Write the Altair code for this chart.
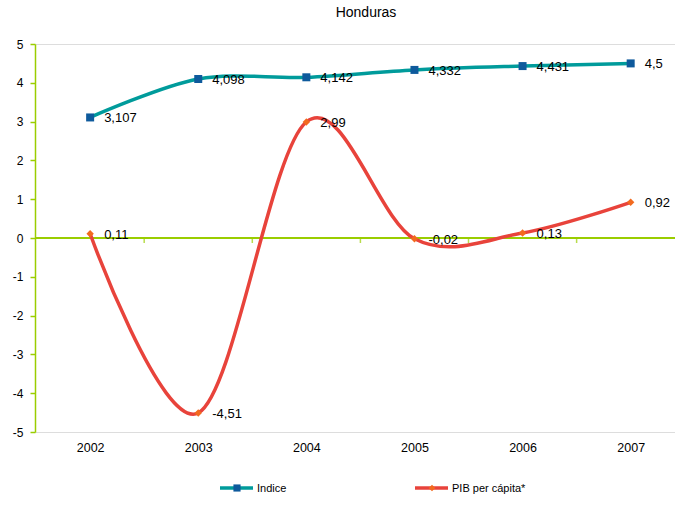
import altair as alt
import pandas as pd

# Series values per year
years = [2002, 2003, 2004, 2005, 2006, 2007]
indice = [3.107, 4.098, 4.142, 4.332, 4.431, 4.5]
pib_per_capita = [0.11, -4.51, 2.99, -0.02, 0.13, 0.92]
series_names = ["Indice", "PIB per cápita*"]
y_ticks = [-5, -4, -3, -2, -1, 0, 1, 2, 3, 4, 5]

GREEN = "#9ACD00"
TEAL = "#009B9B"
NAVY = "#0E5A9C"
RED = "#E8433B"
ORANGE = "#F26A1F"
FONT = "Liberation Sans"

df = pd.concat([
    pd.DataFrame({"year": years, "value": indice, "serie": series_names[0]}),
    pd.DataFrame({"year": years, "value": pib_per_capita, "serie": series_names[1]}),
])
# category boundaries, where the small axis ticks sit on the zero line
bounds = pd.DataFrame({"b": [y + 0.5 for y in years[:-1]]})

x_scale = alt.Scale(domain=[years[0] - 0.51, years[-1] + 0.41], nice=False, zero=False)
y_scale = alt.Scale(domain=[-5, 5], nice=False)

x_axis = alt.Axis(values=years, format="d", ticks=False, domain=False, grid=False,
                  labelPadding=9, labelFontSize=12.5, labelColor="#000000",
                  labelFont=FONT, title=None)
y_axis = alt.Axis(values=y_ticks, grid=False, domainColor=GREEN, tickColor=GREEN,
                  domainWidth=1.5, tickWidth=1.5, tickSize=5, labelPadding=7,
                  labelOverlap=False, labelExpr="'' + datum.value",
                  labelFontSize=12, labelColor="#000000", labelFont=FONT, title=None)

X = alt.X("year:Q", scale=x_scale, axis=x_axis)
Y = alt.Y("value:Q", scale=y_scale, axis=y_axis)
Y0 = alt.datum(0, scale=y_scale, axis=y_axis)

base = alt.Chart(df)

zero_line = alt.Chart(bounds).mark_rule(color=GREEN, strokeWidth=1.5).encode(
    y=Y0, x=alt.value(0), x2=alt.value(640))
bound_ticks = alt.Chart(bounds).mark_tick(color=GREEN, thickness=1.5, size=5, yOffset=2.5,
                                          orient="vertical").encode(
    x=alt.X("b:Q", scale=x_scale, axis=x_axis), y=Y0)

def series_layers(name, line_color, pt_color, shape, pt_size):
    d = base.transform_filter(alt.datum.serie == name)
    line = d.mark_line(interpolate="cardinal", tension=0, color=line_color,
                       strokeWidth=3.5).encode(x=X, y=Y)
    pts = d.mark_point(shape=shape, filled=True, color=pt_color, size=pt_size,
                       opacity=1).encode(x=X, y=Y)
    labels = d.transform_calculate(
        lbl="replace(toString(datum.value), '.', ',')"
    ).mark_text(align="left", baseline="middle", dx=14, dy=1, fontSize=13, font=FONT,
                color="#000000").encode(x=X, y=Y, text="lbl:N")
    return [line, pts, labels]

layers = [zero_line, bound_ticks]
layers += series_layers(series_names[0], TEAL, NAVY, "square", 64)
layers += series_layers(series_names[1], RED, ORANGE, "diamond", 55)

# legend drawn below the plot
leg = alt.Chart(pd.DataFrame({"serie": series_names}))
def legend_entry(name, x0, line_color, pt_color, shape, pt_size):
    d = leg.transform_filter(alt.datum.serie == name)
    ln = d.mark_rule(color=line_color, strokeWidth=3.5).encode(
        x=alt.value(x0), x2=alt.value(x0 + 33), y=alt.value(444))
    pt = d.mark_point(shape=shape, filled=True, color=pt_color, size=pt_size * 0.8,
                      opacity=1).encode(x=alt.value(x0 + 17), y=alt.value(444))
    tx = d.mark_text(align="left", baseline="middle", fontSize=11, font=FONT,
                     color="#000000").encode(
        x=alt.value(x0 + 37), y=alt.value(445), text="serie:N")
    return [ln, pt, tx]

layers += legend_entry(series_names[0], 185, TEAL, NAVY, "square", 64)
layers += legend_entry(series_names[1], 380, RED, ORANGE, "diamond", 55)

chart = alt.layer(*layers).properties(
    width=640, height=388,
    title=alt.TitleParams("Honduras", fontSize=14, font=FONT, fontWeight="normal",
                          color="#000000", anchor="middle", offset=18, dx=11),
    padding={"left": 35, "top": 44, "right": 0, "bottom": 77},
    autosize=alt.AutoSizeParams(type="none"),
).configure_view(stroke=None).configure(background="#ffffff")

chart.save("out.html", embed_options={"renderer": "svg", "actions": False})
